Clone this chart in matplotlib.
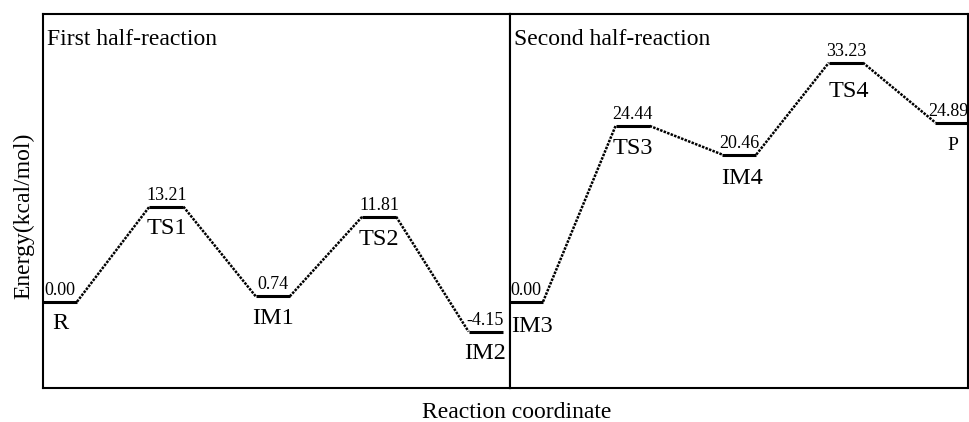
import matplotlib
matplotlib.use("Agg")
import matplotlib.pyplot as plt

plt.rcParams['font.family'] = ['Liberation Serif', 'DejaVu Serif']

# first half-reaction
first_names = ['R', 'TS1', 'IM1', 'TS2', 'IM2']
first_energy = [0.00, 13.21, 0.74, 11.81, -4.15]

# second half-reaction
second_names = ['IM3', 'TS3', 'IM4', 'TS4', 'P']
second_energy = [0.00, 24.44, 20.46, 33.23, 24.89]

ylim = (-12, 40)
half_w = 0.16

# small nudges (points) so labels sit like in the original figure
name_nudge = {'IM3': (4, -1.5), 'TS4': (2, -4.5), 'IM4': (2, -1)}
value_nudge = {'P': (-3, 0)}


def draw_profile(ax, names, energy, title, small=()):
    n = len(energy)
    for i in range(n):
        e = energy[i]
        ax.plot([i - half_w, i + half_w], [e, e], color='black', lw=2.2,
                solid_capstyle='butt', clip_on=False)
        if i < n - 1:
            ax.plot([i + half_w, i + 1 - half_w], [e, energy[i + 1]], color='black',
                    lw=1.8, linestyle=(0, (1, 0.5)))
        vx, vy = value_nudge.get(names[i], (0, 0))
        ax.annotate('%.2f' % e, (i, e), xytext=(vx, 5 + vy), textcoords='offset points',
                    ha='center', va='baseline', fontsize=13, annotation_clip=False)
        nx, ny = name_nudge.get(names[i], (0, 0))
        size = 14 if names[i] in small else 17.5
        ax.annotate(names[i], (i, e), xytext=(nx, -20 + ny), textcoords='offset points',
                    ha='center', va='baseline', fontsize=size, annotation_clip=False)
    ax.text(0.008, 0.917, title, transform=ax.transAxes, fontsize=17, va='baseline')
    ax.set_ylim(*ylim)
    ax.set_xticks([])
    ax.set_yticks([])
    for s in ax.spines.values():
        s.set_linewidth(1.5)


fig = plt.figure(figsize=(9.7, 4.22), dpi=100)
ax1 = fig.add_axes([43 / 970, 34 / 422, 467 / 970, 374 / 422])
ax2 = fig.add_axes([510 / 970, 34 / 422, 458.5 / 970, 374 / 422])

draw_profile(ax1, first_names, first_energy, 'First half-reaction')
ax1.set_xlim(-0.16, 4.23)
draw_profile(ax2, second_names, second_energy, 'Second half-reaction', small=('P',))
ax2.set_xlim(-0.15, 4.15)

fig.text(24 / 970, 206 / 422, 'Energy(kcal/mol)', rotation=90, ha='center', va='center', fontsize=17)
fig.text(517 / 970, 4 / 422, 'Reaction coordinate', ha='center', va='baseline', fontsize=17)

fig.savefig('out.png', dpi=100)
